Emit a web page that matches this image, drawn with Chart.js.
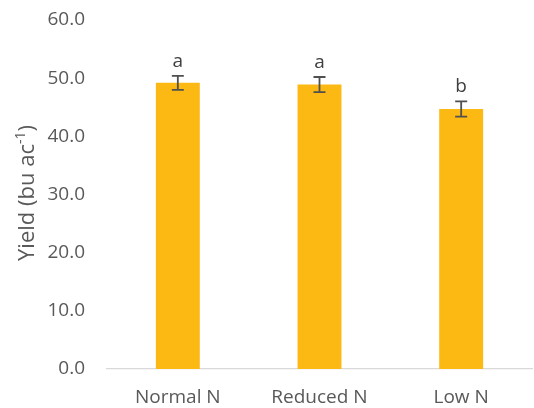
<!DOCTYPE html>
<html>
<head>
<meta charset="utf-8">
<script src="https://cdn.jsdelivr.net/npm/chart.js@4/dist/chart.umd.min.js"></script>
<style>
  html, body { margin: 0; padding: 0; background: #fff; }
  #wrap { width: 534px; height: 408px; position: relative; }
</style>
</head>
<body>
<div id="wrap"><canvas id="c" width="534" height="408"></canvas></div>
<script>
// Yield by nitrogen rate
const categories = ['Normal N', 'Reduced N', 'Low N'];
const yieldMeans = [49.2, 48.9, 44.7];
const yieldErrors = [1.2, 1.3, 1.3];
const groupLetters = ['a', 'a', 'b'];
const yAxisMin = 0;
const yAxisMax = 60;
const yAxisStep = 10;

const FONT = '"Open Sans", "Liberation Sans", sans-serif';
const TEXT = '#595959';

// Error bars plus significance letters above each bar
const errorBarPlugin = {
  id: 'errorBars',
  afterDatasetsDraw(chart) {
    const ctx = chart.ctx;
    const meta = chart.getDatasetMeta(0);
    const y = chart.scales.y;
    ctx.save();
    meta.data.forEach((bar, i) => {
      const x = bar.x;
      const top = y.getPixelForValue(yieldMeans[i] + yieldErrors[i]);
      const bot = y.getPixelForValue(yieldMeans[i] - yieldErrors[i]);
      ctx.strokeStyle = '#505050';
      ctx.lineWidth = 1.8;
      ctx.beginPath();
      ctx.moveTo(x, top); ctx.lineTo(x, bot);
      ctx.moveTo(x - 6, top); ctx.lineTo(x + 6, top);
      ctx.moveTo(x - 6, bot); ctx.lineTo(x + 6, bot);
      ctx.stroke();
      ctx.fillStyle = '#404040';
      ctx.font = '19px ' + FONT;
      ctx.textAlign = 'center';
      ctx.textBaseline = 'alphabetic';
      ctx.fillText(groupLetters[i], x, top - 9);
    });
    ctx.restore();
  }
};

// Rotated y-axis title with a superscript unit exponent
const yTitlePlugin = {
  id: 'yTitle',
  afterDraw(chart) {
    const ctx = chart.ctx;
    const main = 'Yield (bu ac';
    const sup = '-1';
    const tail = ')';
    ctx.save();
    ctx.fillStyle = TEXT;
    ctx.textBaseline = 'alphabetic';
    ctx.textAlign = 'left';
    ctx.font = '22px ' + FONT;
    const w1 = ctx.measureText(main).width;
    const w3 = ctx.measureText(tail).width;
    ctx.font = '14px ' + FONT;
    const w2 = ctx.measureText(sup).width;
    const total = w1 + w2 + w3;
    ctx.translate(34, 193);
    ctx.rotate(-Math.PI / 2);
    let x = -total / 2;
    ctx.font = '22px ' + FONT;
    ctx.fillText(main, x, 0);
    x += w1;
    ctx.font = '14px ' + FONT;
    ctx.fillText(sup, x, -9);
    x += w2;
    ctx.font = '22px ' + FONT;
    ctx.fillText(tail, x, 0);
    ctx.restore();
  }
};

new Chart(document.getElementById('c'), {
  type: 'bar',
  data: {
    labels: categories,
    datasets: [{
      data: yieldMeans,
      backgroundColor: '#FDB913',
      borderWidth: 0,
      barPercentage: 0.31,
      categoryPercentage: 1.0
    }]
  },
  options: {
    responsive: false,
    animation: false,
    devicePixelRatio: 1,
    layout: { padding: { top: 20, right: 2, left: 0, bottom: 0 } },
    plugins: { legend: { display: false }, tooltip: { enabled: false } },
    scales: {
      x: {
        grid: { display: false, drawTicks: false },
        border: { display: true, color: '#d9d9d9', width: 1.2 },
        ticks: { color: TEXT, font: { family: FONT, size: 19 }, padding: 17 },
        afterFit(scale) { scale.height = 39; }
      },
      y: {
        min: yAxisMin,
        max: yAxisMax,
        // hidden grid; tick length only spaces the labels off the plot
        grid: { display: false, drawTicks: true, tickLength: 22 },
        border: { display: false },
        ticks: {
          stepSize: yAxisStep,
          color: TEXT,
          font: { family: FONT, size: 19 },
          padding: 0,
          callback: (v) => Number(v).toFixed(1)
        },
        afterFit(scale) { scale.width = 107; }
      }
    }
  },
  plugins: [errorBarPlugin, yTitlePlugin]
});
</script>
</body>
</html>
